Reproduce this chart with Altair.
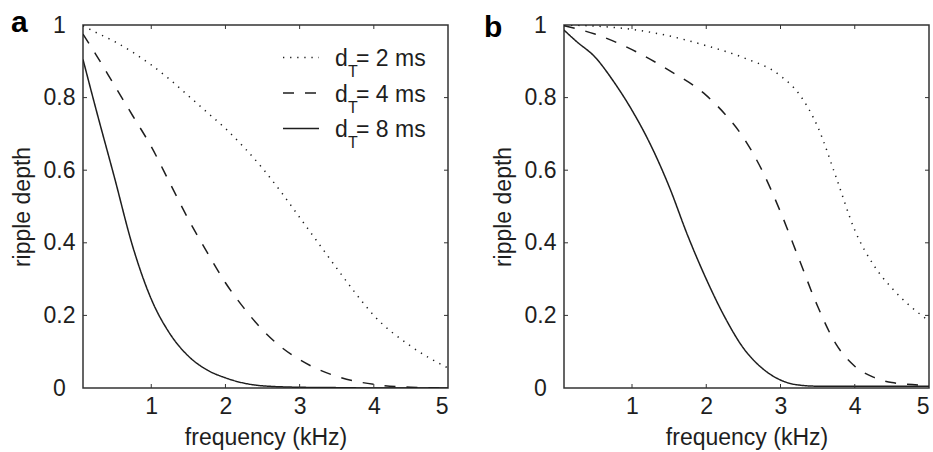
import altair as alt
import pandas as pd

# ---------------- data ----------------
series_names = ["2 ms", "4 ms", "8 ms"]
legend_labels = ["= 2 ms", "= 4 ms", "= 8 ms"]

# panel a
freq_a_2 = [0.08, 0.25, 0.5, 0.75, 1.0, 1.25, 1.5, 1.75, 2.0, 2.25, 2.5, 2.75, 3.0, 3.25, 3.5, 3.75, 4.0, 4.5, 5.0]
depth_a_2 = [0.998, 0.98, 0.955, 0.925, 0.89, 0.85, 0.805, 0.76, 0.715, 0.663, 0.605, 0.54, 0.47, 0.4, 0.33, 0.262, 0.2, 0.115, 0.055]
freq_a_4 = [0.08, 0.25, 0.5, 0.75, 1.0, 1.25, 1.5, 1.75, 2.0, 2.25, 2.5, 2.75, 3.0, 3.5, 4.0, 4.5, 5.0]
depth_a_4 = [0.975, 0.92, 0.835, 0.75, 0.665, 0.565, 0.465, 0.375, 0.29, 0.22, 0.16, 0.113, 0.078, 0.032, 0.01, 0.002, 0.0]
freq_a_8 = [0.08, 0.25, 0.5, 0.75, 1.0, 1.25, 1.5, 1.75, 2.0, 2.5, 3.0, 3.5, 4.0, 4.5, 5.0]
depth_a_8 = [0.905, 0.772, 0.583, 0.39, 0.245, 0.15, 0.088, 0.05, 0.028, 0.006, 0.002, 0.001, 0.0, 0.0, 0.0]

# panel b
freq_b_2 = [0.084, 0.5, 1.0, 1.5, 2.0, 2.5, 3.0, 3.25, 3.5, 3.75, 4.0, 4.25, 4.5, 4.75, 5.0]
depth_b_2 = [1.0, 0.997, 0.988, 0.97, 0.943, 0.91, 0.86, 0.81, 0.72, 0.58, 0.435, 0.34, 0.275, 0.225, 0.185]
freq_b_4 = [0.084, 0.5, 1.0, 1.5, 2.0, 2.25, 2.5, 2.75, 3.0, 3.25, 3.5, 3.75, 4.0, 4.25, 4.5, 5.0]
depth_b_4 = [0.998, 0.975, 0.932, 0.875, 0.806, 0.755, 0.69, 0.6, 0.485, 0.355, 0.225, 0.12, 0.06, 0.03, 0.015, 0.007]
freq_b_8 = [0.084, 0.25, 0.5, 0.75, 1.0, 1.25, 1.5, 1.75, 2.0, 2.25, 2.5, 2.75, 3.0, 3.25, 3.5, 4.0, 4.5, 5.0]
depth_b_8 = [0.986, 0.955, 0.912, 0.845, 0.765, 0.67, 0.555, 0.42, 0.3, 0.195, 0.11, 0.055, 0.022, 0.008, 0.005, 0.005, 0.005, 0.005]

x_tick_labels = [1, 2, 3, 4, 5]
y_tick_labels = [0, 0.2, 0.4, 0.6, 0.8, 1]
x_inner_ticks = [1, 2, 3, 4]
y_inner_ticks = [0.2, 0.4, 0.6, 0.8]

# ---------------- style ----------------
W, H = 365, 363
FONT = "Liberation Sans"
INK = "#1e1e1e"
FS = 23
dash_range = [[1.3, 5.8], [11, 11], [1, 0]]


def long_df(pairs):
    rows = []
    for name, (fx, dy) in zip(series_names, pairs):
        for f, d in zip(fx, dy):
            rows.append({"series": name, "freq": f, "depth": d})
    return pd.DataFrame(rows)


def panel(df, xmin, letter, letter_x, letter_y, with_legend):
    xs = alt.Scale(domain=[xmin, 5], nice=False, zero=False)
    ys = alt.Scale(domain=[0, 1], nice=False)
    common = dict(ticks=False, tickSize=0, domain=False, grid=False, format="~g",
                  labelFont=FONT, titleFont=FONT, labelFontSize=FS, titleFontSize=FS,
                  labelColor=INK, titleColor=INK, titleFontWeight="normal")
    x_axis = alt.Axis(values=x_tick_labels, title="frequency (kHz)",
                      labelPadding=7, titlePadding=8, **common)
    y_axis = alt.Axis(values=y_tick_labels, title="ripple depth",
                      labelAlign="center", labelPadding=24,
                      titleX=-49, titleY=H / 2, titleBaseline="bottom",
                      titleAngle=270, titleAlign="center", **common)

    lines = alt.Chart(df).mark_line(
        color=INK, strokeWidth=1.5, interpolate="monotone", clip=True
    ).encode(
        x=alt.X("freq:Q", scale=xs, axis=x_axis),
        y=alt.Y("depth:Q", scale=ys, axis=y_axis),
        strokeDash=alt.StrokeDash("series:N", scale=alt.Scale(domain=series_names, range=dash_range), legend=None),
        detail="series:N",
    )

    xt = pd.DataFrame({"freq": x_inner_ticks})
    yt = pd.DataFrame({"depth": y_inner_ticks})
    tick_style = dict(color="#333", strokeWidth=1)
    xb = alt.Chart(xt).mark_rule(**tick_style).encode(
        x=alt.X("freq:Q", scale=xs, axis=x_axis), y=alt.value(H), y2=alt.value(H - 4))
    xtop = alt.Chart(xt).mark_rule(**tick_style).encode(
        x=alt.X("freq:Q", scale=xs, axis=x_axis), y=alt.value(0), y2=alt.value(4))
    yl = alt.Chart(yt).mark_rule(**tick_style).encode(
        y=alt.Y("depth:Q", scale=ys, axis=y_axis), x=alt.value(0), x2=alt.value(4))
    yr = alt.Chart(yt).mark_rule(**tick_style).encode(
        y=alt.Y("depth:Q", scale=ys, axis=y_axis), x=alt.value(W - 4), x2=alt.value(W))

    lab = alt.Chart(pd.DataFrame({"t": [letter]})).mark_text(
        font=FONT, fontSize=30, fontWeight="bold", align="left", baseline="alphabetic", color="#000"
    ).encode(text="t:N", x=alt.value(letter_x), y=alt.value(letter_y))

    layers = [lines, xb, xtop, yl, yr, lab]

    if with_legend:
        for i, (name, txt) in enumerate(zip(series_names, legend_labels)):
            base_y = 41 + i * 35.5
            one = pd.DataFrame({"series": [name], "d": ["d"], "T": ["T"], "txt": [txt]})
            layers.append(alt.Chart(one).mark_rule(
                color=INK, strokeWidth=1.5, strokeDash=dash_range[i]
            ).encode(x=alt.value(200), x2=alt.value(236), y=alt.value(base_y - 8.5)))
            layers.append(alt.Chart(one).mark_text(
                font=FONT, fontSize=FS, align="left", baseline="alphabetic", color=INK
            ).encode(text="d:N", x=alt.value(252), y=alt.value(base_y)))
            layers.append(alt.Chart(one).mark_text(
                font=FONT, fontSize=16, align="left", baseline="alphabetic", color=INK
            ).encode(text="T:N", x=alt.value(265), y=alt.value(base_y + 11)))
            layers.append(alt.Chart(one).mark_text(
                font=FONT, fontSize=FS, align="left", baseline="alphabetic", color=INK
            ).encode(text="txt:N", x=alt.value(273), y=alt.value(base_y)))

    return alt.layer(*layers).properties(width=W, height=H)


df_a = long_df([(freq_a_2, depth_a_2), (freq_a_4, depth_a_4), (freq_a_8, depth_a_8)])
df_b = long_df([(freq_b_2, depth_b_2), (freq_b_4, depth_b_4), (freq_b_8, depth_b_8)])

pa = panel(df_a, 0.08, "a", -72, 7, True)
pb = panel(df_b, 0.084, "b", -80, 12, False)

chart = alt.hconcat(pa, pb, spacing=33).properties(
    padding={"left": 10, "top": 7, "right": 0, "bottom": 0},
    background="white",
).configure_view(
    stroke="#333", strokeWidth=1.5
)

chart.save("out.html", embed_options={"renderer": "svg", "actions": False})
